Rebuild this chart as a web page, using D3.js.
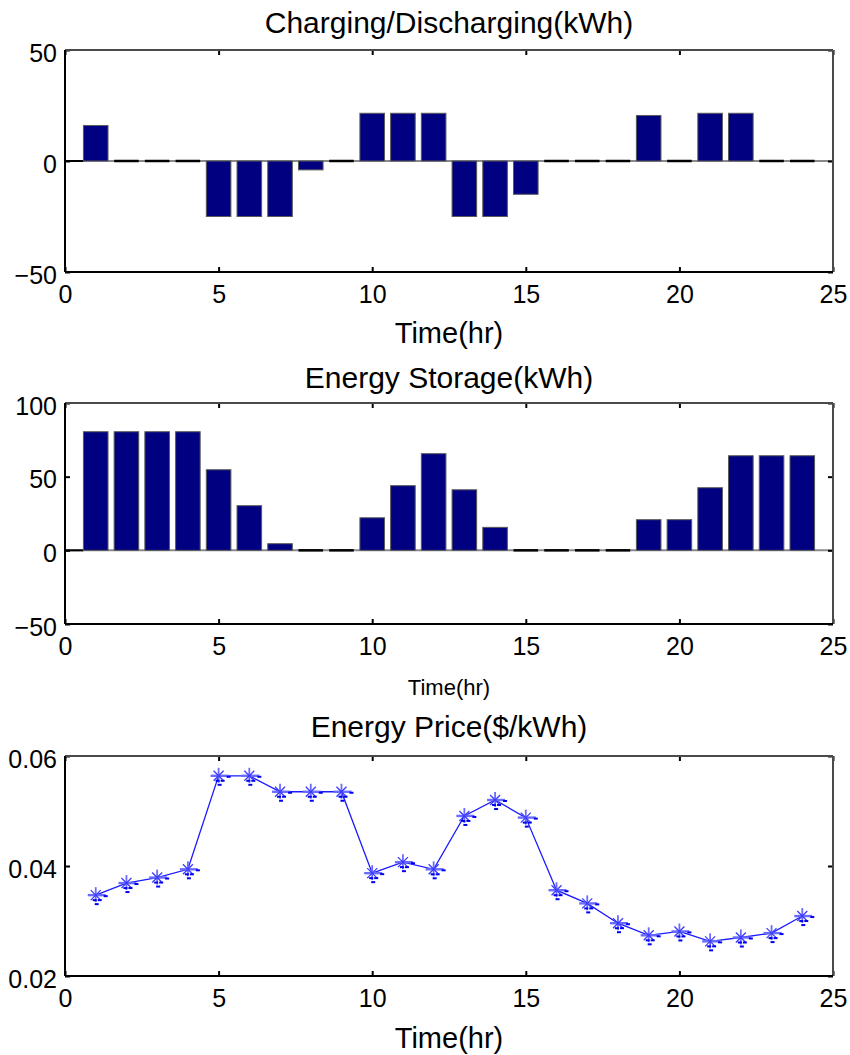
<!DOCTYPE html>
<html>
<head>
<meta charset="utf-8">
<script src="https://cdn.jsdelivr.net/npm/d3@7"></script>
<style>
  html, body { margin: 0; padding: 0; background: #fff; }
  svg { display: block; }
  text { font-family: "Liberation Sans", Arial, sans-serif; fill: #000; }
</style>
</head>
<body>
<svg id="chart" width="850" height="1055"></svg>
<script>
// ---- data ----
const hours = [1,2,3,4,5,6,7,8,9,10,11,12,13,14,15,16,17,18,19,20,21,22,23,24];
const charging = [16, 0, 0, 0, -25, -25, -25, -4, 0, 21.5, 21.5, 21.5, -25, -25, -15, 0, 0, 0, 20.5, 0, 21.5, 21.5, 0, 0];
const storage = [80.5, 80.5, 80.5, 80.5, 54.7, 30.3, 4.5, 0, 0, 22.1, 43.9, 65.6, 41.1, 15.6, 0, 0, 0, 0, 20.8, 20.8, 42.5, 64.2, 64.2, 64.2];
const price = [0.0347, 0.0369, 0.0379, 0.0394, 0.0564, 0.0564, 0.0535, 0.0535, 0.0535, 0.0387, 0.0407, 0.0394, 0.0491, 0.0520, 0.0488, 0.0356, 0.0332, 0.0296, 0.0274, 0.0281, 0.0263, 0.0270, 0.0278, 0.0309];

const xTicks = [0, 5, 10, 15, 20, 25];
const yTicks1 = [-50, 0, 50];
const yTicks2 = [-50, 0, 50, 100];
const yTicks3 = [0.02, 0.04, 0.06];

const titles = ["Charging/Discharging(kWh)", "Energy Storage(kWh)", "Energy Price($/kWh)"];
const xLabel = "Time(hr)";

// ---- layout ----
const svg = d3.select("#chart");
const left = 65, right = 833;
const panels = [
  {top: 50, bottom: 272, domain: [-50, 50], ticks: yTicks1, fmt: d3.format("d"), title: titles[0], titleY: 33, xlabY: 343, xlabSize: 29},
  {top: 403, bottom: 624, domain: [-50, 100], ticks: yTicks2, fmt: d3.format("d"), title: titles[1], titleY: 388, xlabY: 695, xlabSize: 22},
  {top: 756, bottom: 976, domain: [0.02, 0.06], ticks: yTicks3, fmt: d3.format(".2f"), title: titles[2], titleY: 737, xlabY: 1048, xlabSize: 29}
];

const x = d3.scaleLinear().domain([0, 25]).range([left, right]);
const cx = (left + right) / 2;

function drawFrame(g, p, y) {
  const bottomAx = g.append("g").attr("transform", `translate(0,${p.bottom})`)
    .call(d3.axisBottom(x).tickValues(xTicks).tickSize(-5).tickSizeOuter(0).tickPadding(13).tickFormat(d3.format("d")));
  const topAx = g.append("g").attr("transform", `translate(0,${p.top})`)
    .call(d3.axisTop(x).tickValues(xTicks).tickSize(-5).tickSizeOuter(0).tickFormat(""));
  const leftAx = g.append("g").attr("transform", `translate(${left},0)`)
    .call(d3.axisLeft(y).tickValues(p.ticks).tickSize(-5).tickSizeOuter(0).tickPadding(8).tickFormat(p.fmt));
  const rightAx = g.append("g").attr("transform", `translate(${right},0)`)
    .call(d3.axisRight(y).tickValues(p.ticks).tickSize(-5).tickSizeOuter(0).tickFormat(""));
  [bottomAx, topAx, leftAx, rightAx].forEach(a => {
    a.select(".domain").remove();
    a.selectAll(".tick line").attr("stroke", "#000").attr("stroke-width", 2);
    a.selectAll(".tick text").attr("font-size", 25).attr("font-family", "Liberation Sans, Arial, sans-serif").attr("fill", "#000");
  });
  leftAx.selectAll(".tick text").attr("dy", "0.45em");
  g.append("line").attr("x1", left).attr("x2", right).attr("y1", p.top).attr("y2", p.top).attr("stroke", "#4a4a4a").attr("stroke-width", 2);
  g.append("line").attr("x1", right).attr("x2", right).attr("y1", p.top).attr("y2", p.bottom).attr("stroke", "#4a4a4a").attr("stroke-width", 2);
  g.append("line").attr("x1", left).attr("x2", right).attr("y1", p.bottom).attr("y2", p.bottom).attr("stroke", "#000").attr("stroke-width", 2);
  g.append("line").attr("x1", left).attr("x2", left).attr("y1", p.top).attr("y2", p.bottom).attr("stroke", "#000").attr("stroke-width", 2);
  g.append("text").attr("x", cx).attr("y", p.titleY).attr("text-anchor", "middle").attr("font-size", 30).text(p.title);
  g.append("text").attr("x", cx).attr("y", p.xlabY).attr("text-anchor", "middle").attr("font-size", p.xlabSize).text(xLabel);
}

function drawBars(g, p, values) {
  const y = d3.scaleLinear().domain(p.domain).range([p.bottom, p.top]);
  const data = hours.map((h, i) => ({h, v: values[i]}));
  // baseline
  g.append("line").attr("x1", left).attr("x2", right).attr("y1", y(0)).attr("y2", y(0))
    .attr("stroke", "#8a8a8a").attr("stroke-width", 2);
  // short dark stretch from the axis to the first bar
  g.append("line").attr("x1", left).attr("x2", x(hours[0] - 0.4)).attr("y1", y(0)).attr("y2", y(0))
    .attr("stroke", "#000").attr("stroke-width", 2);
  const nz = data.filter(d => d.v !== 0);
  const zr = data.filter(d => d.v === 0);
  g.selectAll("line.zbar").data(zr).join("line").attr("class", "zbar")
    .attr("x1", d => x(d.h - 0.4)).attr("x2", d => x(d.h + 0.4))
    .attr("y1", y(0)).attr("y2", y(0))
    .attr("stroke", "#000").attr("stroke-width", 2.5);
  g.selectAll("rect.bar").data(nz).join("rect").attr("class", "bar")
    .attr("x", d => x(d.h - 0.4))
    .attr("width", d => x(d.h + 0.4) - x(d.h - 0.4))
    .attr("y", d => Math.min(y(d.v), y(0)))
    .attr("height", d => Math.abs(y(d.v) - y(0)))
    .attr("fill", "#000080")
    .attr("stroke", "#5a5a5a")
    .attr("stroke-width", 1);
  drawFrame(g, p, y);
}

function drawLine(g, p, values) {
  const y = d3.scaleLinear().domain(p.domain).range([p.bottom, p.top]);
  const data = hours.map((h, i) => ({h, v: values[i]}));
  g.append("path").datum(data)
    .attr("d", d3.line().x(d => x(d.h)).y(d => y(d.v)))
    .attr("fill", "none").attr("stroke", "#1a1aff").attr("stroke-width", 1.3);
  const m = g.selectAll("g.mk").data(data).join("g").attr("class", "mk")
    .attr("transform", d => `translate(${x(d.h)},${y(d.v)})`);
  const r = 7, rd = 5;
  m.append("line").attr("x1", -r - 1).attr("x2", r + 3).attr("y1", 0).attr("y2", 0).attr("stroke", "#6b6bff").attr("stroke-width", 2.4);
  m.append("line").attr("x1", 0).attr("x2", 0).attr("y1", -r - 1).attr("y2", r).attr("stroke", "#6b6bff").attr("stroke-width", 1.8);
  m.append("line").attr("x1", -rd).attr("x2", rd).attr("y1", -rd).attr("y2", rd).attr("stroke", "#3b3bff").attr("stroke-width", 1.3);
  m.append("line").attr("x1", -rd).attr("x2", rd).attr("y1", rd).attr("y2", -rd).attr("stroke", "#3b3bff").attr("stroke-width", 1.3);
  const dashes = [[8, 0], [-3, 4], [2, 4], [-1, 8]];
  dashes.forEach(([dx, dy]) => {
    m.append("rect").attr("x", dx).attr("y", dy).attr("width", 4).attr("height", 2).attr("fill", "#0000ee");
  });
  drawFrame(g, p, y);
}

drawBars(svg.append("g"), panels[0], charging);
drawBars(svg.append("g"), panels[1], storage);
drawLine(svg.append("g"), panels[2], price);
</script>
</body>
</html>
